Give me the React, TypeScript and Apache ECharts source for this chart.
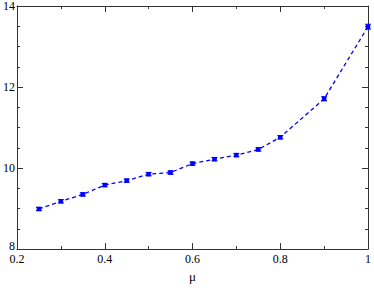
import React, { useEffect, useRef } from "react";
import * as echarts from "echarts";

const muValues = [0.25, 0.3, 0.35, 0.4, 0.45, 0.5, 0.55, 0.6, 0.65, 0.7, 0.75, 0.8, 0.9, 1.0];
const yValues = [8.99, 9.18, 9.35, 9.58, 9.69, 9.85, 9.89, 10.11, 10.22, 10.32, 10.46, 10.76, 11.71, 13.49];
const yErrors = [0.04, 0.04, 0.04, 0.04, 0.04, 0.04, 0.04, 0.04, 0.04, 0.04, 0.04, 0.04, 0.05, 0.06];
const xTickLabels = ["0.2", "0.4", "0.6", "0.8", "1"];
const yTickLabels = ["8", "10", "12", "14"];

const BLUE = "#0000ff";
const AXIS = "#333333";
const FONT = "Liberation Serif";

export default function App() {
  const ref = useRef<HTMLDivElement>(null);
  useEffect(() => {
    const chart = echarts.init(ref.current!, null, { renderer: "svg" });
    const lineData = muValues.map((x, i) => [x, yValues[i]]);
    const errData = muValues.map((x, i) => [x, yValues[i], yErrors[i]]);
    const axisCommon = {
      axisLine: { show: true, onZero: false, lineStyle: { color: AXIS, width: 1 } },
      axisTick: { show: true, inside: true, length: 6, lineStyle: { color: AXIS } },
      minorTick: { show: true, length: 3, lineStyle: { color: AXIS } },
      splitLine: { show: false },
    };
    const xFmt = (v: number) => {
      const idx = Math.round((v - 0.2) / 0.2);
      return xTickLabels[idx] ?? "";
    };
    const yFmt = (v: number) => {
      const idx = Math.round((v - 8) / 2);
      const t = yTickLabels[idx] ?? "";
      return idx === 0 ? "{low|" + t + "}" : t;
    };
    chart.setOption({
      animation: false,
      backgroundColor: "#ffffff",
      grid: { left: 16, right: 4, top: 5, bottom: 36, containLabel: false },
      xAxis: [
        {
          type: "value",
          position: "bottom",
          min: 0.2,
          max: 1,
          interval: 0.2,
          ...axisCommon,
          minorTick: { ...axisCommon.minorTick, splitNumber: 2 },
          axisLabel: { color: "#000", fontFamily: FONT, fontSize: 12, margin: 4, formatter: xFmt },
          name: "μ",
          nameLocation: "middle",
          nameGap: 15,
          nameTextStyle: { color: "#000", fontFamily: FONT, fontSize: 13 },
        },
        {
          type: "value",
          position: "top",
          min: 0.2,
          max: 1,
          interval: 0.2,
          ...axisCommon,
          minorTick: { ...axisCommon.minorTick, splitNumber: 2 },
          axisLabel: { show: false },
        },
      ],
      yAxis: [
        {
          type: "value",
          position: "left",
          min: 8,
          max: 14,
          interval: 2,
          ...axisCommon,
          minorTick: { ...axisCommon.minorTick, splitNumber: 4 },
          axisLabel: {
            color: "#000",
            fontFamily: FONT,
            fontSize: 12,
            margin: 2,
            formatter: yFmt,
            rich: {
              low: { color: "#000", fontFamily: FONT, fontSize: 12, lineHeight: 12, padding: [0, 0, 6, 0] },
            },
          },
        },
        {
          type: "value",
          position: "right",
          min: 8,
          max: 14,
          interval: 2,
          ...axisCommon,
          minorTick: { ...axisCommon.minorTick, splitNumber: 4 },
          axisLabel: { show: false },
        },
      ],
      series: [
        {
          type: "line",
          data: lineData,
          xAxisIndex: 0,
          yAxisIndex: 0,
          symbol: "rect",
          symbolSize: 4.5,
          itemStyle: { color: BLUE },
          lineStyle: { color: BLUE, width: 1.3, type: [4, 3] },
          z: 3,
        },
        {
          type: "custom",
          data: errData,
          xAxisIndex: 0,
          yAxisIndex: 0,
          encode: { x: 0, y: 1 },
          z: 4,
          renderItem: (params: any, api: any) => {
            const x = api.value(0);
            const y = api.value(1);
            const e = api.value(2);
            const top = api.coord([x, y + e]);
            const bot = api.coord([x, y - e]);
            const hw = 3;
            const style = { stroke: BLUE, lineWidth: 1 };
            return {
              type: "group",
              children: [
                { type: "line", shape: { x1: top[0], y1: top[1], x2: bot[0], y2: bot[1] }, style },
                { type: "line", shape: { x1: top[0] - hw, y1: top[1], x2: top[0] + hw, y2: top[1] }, style },
                { type: "line", shape: { x1: bot[0] - hw, y1: bot[1], x2: bot[0] + hw, y2: bot[1] }, style },
              ],
            };
          },
        },
      ],
    });
    return () => chart.dispose();
  }, []);
  return <div ref={ref} style={{ position: "fixed", left: 0, top: 0, width: 374, height: 288 }} />;
}
